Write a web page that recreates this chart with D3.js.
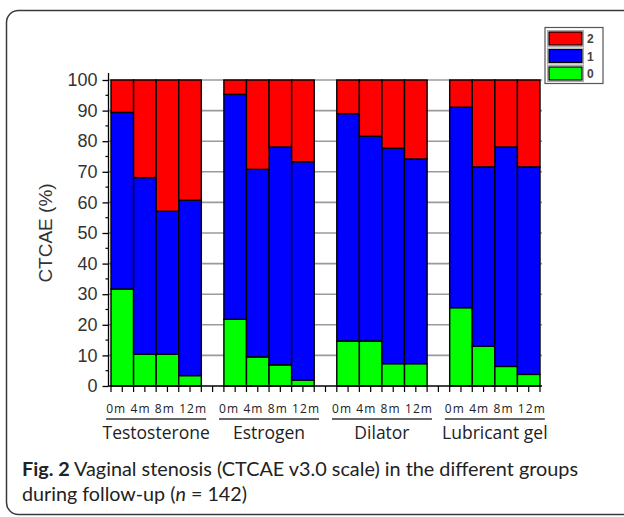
<!DOCTYPE html>
<html><head><meta charset="utf-8">
<script src="https://cdn.jsdelivr.net/npm/d3@7"></script>
<style>body{margin:0;background:#fff;} svg{display:block;}</style>
</head><body>
<svg id="chart" width="624" height="517"></svg>
<script>
const groups = ["Testosterone","Estrogen","Dilator","Lubricant gel"];
const months = ["0m","4m","8m","12m"];
const grade0 = [31.7,10.4,10.4,3.4, 21.8,9.5,6.9,1.9, 14.7,14.7,7.3,7.3, 25.6,13.0,6.4,3.8];
const grade1 = [57.7,57.7,46.7,57.3, 73.5,61.3,71.2,71.4, 74.3,66.9,70.4,66.9, 65.5,58.6,71.7,67.8];
const grade2 = [10.6,31.9,42.9,39.3, 4.7,29.2,21.9,26.7, 11.0,18.4,22.3,25.8, 8.9,28.4,21.9,28.4];
const seriesKeys = ["0","1","2"];
const colors = {"0":"#00ff00","1":"#0000ff","2":"#ff0000"};
const yTicks = [0,10,20,30,40,50,60,70,80,90,100];
const yLabel = "CTCAE (%)";
const captionBold = "Fig. 2";
const captionLine1 = " Vaginal stenosis (CTCAE v3.0 scale) in the different groups";
const captionLine2a = "during follow-up (";
const captionLine2n = "n";
const captionLine2b = " = 142)";

const svg = d3.select("#chart");

// frame
svg.append("rect").attr("x",6.5).attr("y",10.5).attr("width",640).attr("height",504)
  .attr("rx",12).attr("fill","none").attr("stroke","#3a3a3a").attr("stroke-width",1.5);

// slots: 4 groups of 4 bars with one empty slot between groups
const slots = [];
const rows = [];
groups.forEach((g,gi)=>{
  months.forEach((m,mi)=>{
    const idx = gi*4+mi;
    const key = g+"|"+m;
    slots.push(key);
    rows.push({key, g, m, "0":grade0[idx], "1":grade1[idx], "2":grade2[idx]});
  });
  if (gi < groups.length-1) slots.push("gap"+gi);
});

const x = d3.scaleBand().domain(slots).range([111,540]).padding(0);
const y = d3.scaleLinear().domain([0,100]).range([386,80]);

// grid
svg.append("g").selectAll("line").data(yTicks.filter(d=>d>0)).join("line")
  .attr("x1",109).attr("x2",542).attr("y1",d=>y(d)).attr("y2",d=>y(d))
  .attr("stroke","#9a9a9a").attr("stroke-width",1.6);

// bars
const stack = d3.stack().keys(seriesKeys)(rows);
svg.append("g").selectAll("g").data(stack).join("g")
  .attr("fill",d=>colors[d.key])
  .selectAll("rect").data(d=>d).join("rect")
  .attr("x",d=>x(d.data.key)).attr("width",x.bandwidth())
  .attr("y",d=>y(d[1])).attr("height",d=>y(d[0])-y(d[1]))
  .attr("stroke","#000").attr("stroke-width",1.4);

// y axis
const yAxis = d3.axisLeft(y).tickValues(yTicks).tickSize(6).tickPadding(5);
const yg = svg.append("g").attr("transform","translate(108.5,0)").call(yAxis);
yg.select(".domain").remove();
yg.append("line").attr("x1",0).attr("x2",0).attr("y1",73).attr("y2",386).attr("stroke","#000").attr("stroke-width",1.3);
yg.selectAll(".tick line").attr("stroke","#000").attr("stroke-width",1.3);
yg.selectAll(".tick text").attr("font-family","Liberation Sans, Arial, sans-serif").attr("font-size",18).attr("fill","#333");
// minor ticks
yg.append("g").selectAll("line").data(d3.range(5,100,10)).join("line")
  .attr("x1",-3).attr("x2",0).attr("y1",d=>y(d)).attr("y2",d=>y(d)).attr("stroke","#000").attr("stroke-width",1.2);

// x axis
svg.append("line").attr("x1",108).attr("x2",542).attr("y1",386).attr("y2",386).attr("stroke","#000").attr("stroke-width",1.3);
const xt = [];
slots.forEach(s=>{ xt.push(x(s)); xt.push(x(s)+x.bandwidth()/2); });
xt.push(x(slots[slots.length-1])+x.bandwidth());
svg.append("g").selectAll("line").data(xt).join("line")
  .attr("x1",d=>d).attr("x2",d=>d).attr("y1",386).attr("y2",392)
  .attr("stroke","#000").attr("stroke-width",1.2);

// group labels
groups.forEach((g,gi)=>{
  const first = x(g+"|"+months[0]);
  const last = x(g+"|"+months[months.length-1]) + x.bandwidth();
  const cx = (first+last)/2;
  svg.append("text").attr("x",cx).attr("y",413).attr("text-anchor","middle")
    .attr("font-family","Open Sans, sans-serif").attr("font-size",12).attr("fill","#222")
    .attr("textLength",100).attr("lengthAdjust","spacing")
    .text(months.join(" "));
  svg.append("line").attr("x1",cx-50).attr("x2",cx+50).attr("y1",419).attr("y2",419)
    .attr("stroke","#333").attr("stroke-width",1.3);
  svg.append("text").attr("x",cx).attr("y",439).attr("text-anchor","middle")
    .attr("font-family","Open Sans, sans-serif").attr("font-size",17.5).attr("fill","#222")
    .text(g);
});

// y label
svg.append("text").attr("transform","translate(52,233) rotate(-90)").attr("text-anchor","middle")
  .attr("font-family","Liberation Sans, Arial, sans-serif").attr("font-size",19).attr("fill","#333")
  .text(yLabel);

// legend
const lg = svg.append("g");
lg.append("rect").attr("x",545).attr("y",27.5).attr("width",58).attr("height",56)
  .attr("fill","#fff").attr("stroke","#555").attr("stroke-width",1.2);
["2","1","0"].forEach((k,i)=>{
  const yy = 30.5 + i*17.5;
  lg.append("rect").attr("x",547.5).attr("y",yy).attr("width",36).attr("height",16)
    .attr("fill","none").attr("stroke","#aaa").attr("stroke-width",1);
  lg.append("rect").attr("x",549).attr("y",yy+1.5).attr("width",33).attr("height",13)
    .attr("fill",colors[k]).attr("stroke","#000").attr("stroke-width",1.2);
  lg.append("text").attr("x",587).attr("y",yy+12.5)
    .attr("font-family","Liberation Sans, Arial, sans-serif").attr("font-size",12).attr("font-weight","bold").attr("fill","#444")
    .text(k);
});

// caption
const c1 = svg.append("text").attr("x",22).attr("y",476).attr("font-family","Lato, Open Sans, sans-serif")
  .attr("font-size",19.5).attr("fill","#222").attr("textLength",556).attr("lengthAdjust","spacingAndGlyphs");
c1.append("tspan").attr("font-weight","bold").text(captionBold);
c1.append("tspan").text(captionLine1);
const c2 = svg.append("text").attr("x",22).attr("y",501).attr("font-family","Lato, Open Sans, sans-serif")
  .attr("font-size",19.5).attr("fill","#222").attr("textLength",225).attr("lengthAdjust","spacingAndGlyphs");
c2.append("tspan").text(captionLine2a);
c2.append("tspan").attr("font-style","italic").text(captionLine2n);
c2.append("tspan").text(captionLine2b);
</script>
</body></html>
